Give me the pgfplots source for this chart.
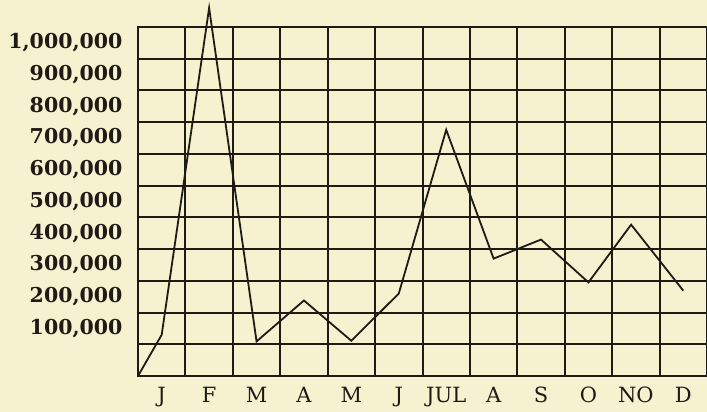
\documentclass[border=0pt]{standalone}
\usepackage{pgfplots}
\pgfplotsset{compat=1.18}
\usetikzlibrary{backgrounds}
\usepackage{fontspec}
\setmainfont{DejaVu Serif}
\definecolor{paper}{HTML}{F6F2D0}
\definecolor{ink}{HTML}{1E1A16}
\begin{document}
\begin{tikzpicture}
\begin{axis}[
  scale only axis,
  width=569pt, height=349pt,
  xmin=0.5, xmax=12.5,
  ymin=-50000, ymax=1050000,
  clip=false,
  axis line style={ink, line width=2pt},
  xtick={1,...,12},
  xticklabels={J,F,M,A,M,J,JUL,A,S,O,NO,D},
  minor xtick={1.5,2.5,...,11.5},
  xminorgrids=true,
  ytick={100000,200000,...,1000000},
  yticklabels={{100,000},{200,000},{300,000},{400,000},{500,000},{600,000},{700,000},{800,000},{900,000},{1,000,000}},
  minor ytick={50000,150000,...,950000},
  yminorgrids=true,
  minor grid style={ink, line width=2pt},
  major tick length=0pt, minor tick length=0pt,
  xticklabel style={font=\fontsize{21}{22}\selectfont, text=ink, text height=15.5pt, text depth=4pt, yshift=-7pt},
  yticklabel style={font=\fontsize{20.5}{22}\selectfont\bfseries, text=ink, xshift=-12pt},
  scaled y ticks=false,
  /pgf/number format/assume math mode=true,
]
\addplot[ink, line width=1.8pt] coordinates {
  (0.5,-50000) (1,80000) (2,1110000) (3,59000) (4,188000) (5,61000)
  (6,210000) (7,726000) (8,320000) (9,380000) (10,245000) (10.9,427000) (12,219000)
};
\coordinate (bl) at (rel axis cs:0,0);
\coordinate (tr) at (rel axis cs:1,1);
\end{axis}
\pgfresetboundingbox
\begin{scope}[on background layer]
\fill[paper] ([xshift=-138pt,yshift=-36pt]bl) rectangle ([yshift=27pt]tr);
\end{scope}
\path[use as bounding box] ([xshift=-138pt,yshift=-36pt]bl) rectangle ([yshift=27pt]tr);
\end{tikzpicture}
\end{document}
